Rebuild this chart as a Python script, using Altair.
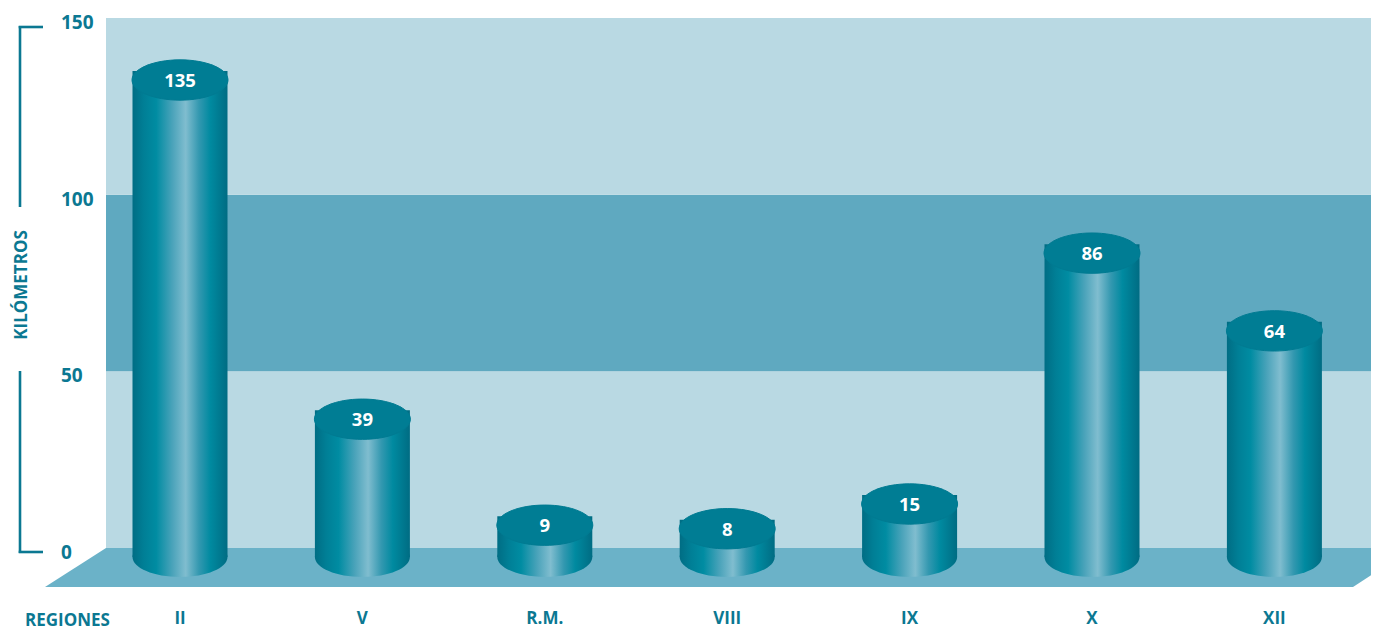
import altair as alt
import pandas as pd

# ---------------- data ----------------
regions = ["II", "V", "R.M.", "VIII", "IX", "X", "XII"]
km = [135, 39, 9, 8, 15, 86, 64]
y_ticks = [0, 50, 100, 150]
band_lo = [0, 50, 100]
band_hi = [50, 100, 150]
band_colors = ["#b9d9e3", "#5fa9c0", "#b9d9e3"]

# ---------------- layout ----------------
W, H = 1363, 624
Y0_PX, Y150_PX = 540, 10          # pixel rows of value 0 and 150 on the wall
PPU = (Y0_PX - Y150_PX) / 150.0
Y_DOMAIN = [-(H - Y0_PX) / PPU, 150 + Y150_PX / PPU]
X0_PX, STEP = 172, 182.4          # centre of first cylinder, spacing
X_DOMAIN = [-X0_PX / STEP, (W - X0_PX) / STEP]


def xu(px):
    return (px - X0_PX) / STEP


def yu(py):
    return (Y0_PX - py) / PPU


TEAL = "#0b7892"
CYL_W = 95
DEPTH = 9  # cylinders stand in front of the wall
ELLIPSE = "M -1 0 A 1 0.42 0 1 0 1 0 A 1 0.42 0 1 0 -1 0 Z"
GRAD = {
    "gradient": "linear", "x1": 0, "x2": 1, "y1": 0, "y2": 0,
    "stops": [
        {"offset": 0.0, "color": "#006d84"},
        {"offset": 0.12, "color": "#007f96"},
        {"offset": 0.25, "color": "#008ca2"},
        {"offset": 0.42, "color": "#4aa3ba"},
        {"offset": 0.56, "color": "#80bdcf"},
        {"offset": 0.70, "color": "#3398b0"},
        {"offset": 0.82, "color": "#008aa0"},
        {"offset": 1.0, "color": "#006c83"},
    ],
}
FONT = "Open Sans"

xs = alt.Scale(domain=X_DOMAIN, nice=False, zero=False, padding=0)
ys = alt.Scale(domain=Y_DOMAIN, nice=False, zero=False, padding=0)


def X(f):
    return alt.X(f, type="quantitative", scale=xs, axis=None)


def Y(f):
    return alt.Y(f, type="quantitative", scale=ys, axis=None)


bars = pd.DataFrame({"region": regions, "km": km,
                     "idx": list(range(len(regions))), "base": [0] * len(regions)})
bands = pd.DataFrame({"lo": band_lo, "hi": band_hi, "c": band_colors,
                      "x": [xu(98)] * 3, "x2": [X_DOMAIN[1]] * 3})
ticks = pd.DataFrame({"v": y_ticks, "t": [str(t) for t in y_ticks]})
floor = pd.DataFrame({"y": [yu(540), yu(579)],
                      "x": [xu(98), xu(37)],
                      "x2": [xu(1405), xu(1345)]})

wall = alt.Chart(bands).mark_rect(strokeWidth=0).encode(
    x=X("x"), x2="x2", y=Y("lo"), y2="hi",
    fill=alt.Fill("c:N", scale=None, legend=None))

floor_l = alt.Chart(floor).mark_area(orient="horizontal", color="#6bb2c8", clip=True).encode(
    y=Y("y"), x=X("x"), x2="x2")

# bracket of the value axis
br = pd.DataFrame({"a": [0]})
bracket = [
    alt.Chart(br).mark_rule(color=TEAL, strokeWidth=2.6).encode(
        x=alt.value(12), y=alt.value(18), y2=alt.value(199)),
    alt.Chart(br).mark_rule(color=TEAL, strokeWidth=2.6).encode(
        x=alt.value(12), y=alt.value(363), y2=alt.value(545)),
    alt.Chart(br).mark_rule(color=TEAL, strokeWidth=2.6).encode(
        x=alt.value(10.7), x2=alt.value(35), y=alt.value(19)),
    alt.Chart(br).mark_rule(color=TEAL, strokeWidth=2.6).encode(
        x=alt.value(10.7), x2=alt.value(35), y=alt.value(544)),
]

tick_txt = alt.Chart(ticks).mark_text(
    align="left", baseline="middle", dy=5, font=FONT, fontWeight="bold",
    fontSize=19, color=TEAL).encode(x=alt.value(53), y=Y("v"), text="t:N")

title = alt.Chart(br).mark_text(
    text="KILÓMETROS", angle=270, align="center", baseline="middle",
    font=FONT, fontWeight="bold", fontSize=17, color=TEAL).encode(
    x=alt.value(14), y=alt.value(277))

bottom_ell = alt.Chart(bars).mark_point(
    shape=ELLIPSE, size=CYL_W ** 2, filled=True, fill=GRAD, opacity=1,
    strokeWidth=0, yOffset=DEPTH).encode(x=X("idx"), y=Y("base"))

body = alt.Chart(bars).mark_bar(
    size=CYL_W, fill=GRAD, orient="vertical", yOffset=DEPTH, strokeWidth=0).encode(
    x=X("idx"), y=Y("base"), y2="km")

top_ell = alt.Chart(bars).mark_point(
    shape=ELLIPSE, size=(CYL_W + 1) ** 2, filled=True, fill="#007d94", opacity=1,
    stroke="#007b92", strokeWidth=1, yOffset=DEPTH).encode(x=X("idx"), y=Y("km"))

top_txt = alt.Chart(bars).mark_text(
    color="white", font=FONT, fontWeight="bold", fontSize=18.5, baseline="middle",
    dy=DEPTH + 1).encode(x=X("idx"), y=Y("km"), text="km:Q")

x_lab = alt.Chart(bars).mark_text(
    color=TEAL, font=FONT, fontWeight="bold", fontSize=17, baseline="middle").encode(
    x=X("idx"), y=alt.value(611), text="region:N")

reg = alt.Chart(br).mark_text(
    text="REGIONES", align="left", baseline="middle", color=TEAL, font=FONT,
    fontWeight="bold", fontSize=17).encode(x=alt.value(17), y=alt.value(613))

chart = alt.layer(
    wall, floor_l, *bracket, tick_txt, title,
    bottom_ell, body, top_ell, top_txt, x_lab, reg
).properties(
    width=W, height=H, padding=0,
    autosize=alt.AutoSizeParams(type="none"),
    background="white",
).configure_view(strokeWidth=0)

chart.save("out.html", embed_options={"renderer": "svg", "actions": False})
